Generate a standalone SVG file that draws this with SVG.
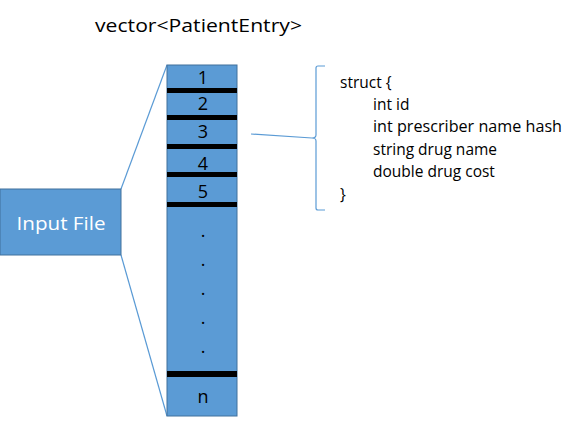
<svg xmlns="http://www.w3.org/2000/svg" width="577" height="424" viewBox="0 0 577 424">
<style>
.box{fill:#5B9BD5;stroke:#41719C;stroke-width:1}
.bar{fill:#000}
.conn{stroke:#5B9BD5;stroke-width:1.2;fill:none}
.t{font-family:"Open Sans","Liberation Sans",sans-serif;fill:#000}
.num{font-family:"Open Sans","Liberation Sans",sans-serif;font-size:18px;text-anchor:middle;fill:#000}
.code{font-family:"Open Sans","Liberation Sans",sans-serif;font-size:15.5px;fill:#000}
</style>
<rect width="577" height="424" fill="#fff"/>
<g id="title"><text class="t" x="95" y="32" font-size="19" textLength="207" lengthAdjust="spacingAndGlyphs">vector&lt;PatientEntry&gt;</text></g>
<g id="connectors">
<line class="conn" x1="121" y1="189" x2="167" y2="65"/>
<line class="conn" x1="121" y1="255" x2="167" y2="416"/>
<line class="conn" x1="251" y1="134" x2="312" y2="138"/>
<path class="conn" d="M325,66 H318 Q316,66 316,68 V135 Q316,138 312,138 Q316,138 316,141 V208 Q316,210 318,210 H325"/>
</g>
<g id="input-file">
<rect class="box" x="0" y="189" width="121" height="66"/>
<text x="61" y="230" font-family="Open Sans,Liberation Sans,sans-serif" font-size="19" fill="#fff" text-anchor="middle" textLength="89" lengthAdjust="spacingAndGlyphs">Input File</text>
</g>
<g id="vector">
<rect class="box" x="167" y="65" width="70" height="351"/>
<rect class="bar" x="167" y="88" width="70" height="5"/>
<rect class="bar" x="167" y="115" width="70" height="5"/>
<rect class="bar" x="167" y="144" width="70" height="5"/>
<rect class="bar" x="167" y="172" width="70" height="5"/>
<rect class="bar" x="167" y="202" width="70" height="5"/>
<rect class="bar" x="167" y="371" width="70" height="6"/>
<text class="num" x="203" y="84">1</text>
<text class="num" x="203" y="110">2</text>
<text class="num" x="203" y="138">3</text>
<text class="num" x="203" y="170">4</text>
<text class="num" x="203" y="198">5</text>
<text class="num" x="203" y="237">.</text>
<text class="num" x="203" y="266">.</text>
<text class="num" x="203" y="295">.</text>
<text class="num" x="203" y="324">.</text>
<text class="num" x="203" y="353">.</text>
<text class="num" x="203" y="403">n</text>
</g>
<g id="struct">
<text class="code" x="340" y="88">struct {</text>
<text class="code" x="373" y="110">int id</text>
<text class="code" x="373" y="132" textLength="189" lengthAdjust="spacingAndGlyphs">int prescriber name hash</text>
<text class="code" x="373" y="155">string drug name</text>
<text class="code" x="373" y="177">double drug cost</text>
<text class="code" x="340" y="200">}</text>
</g>
</svg>
